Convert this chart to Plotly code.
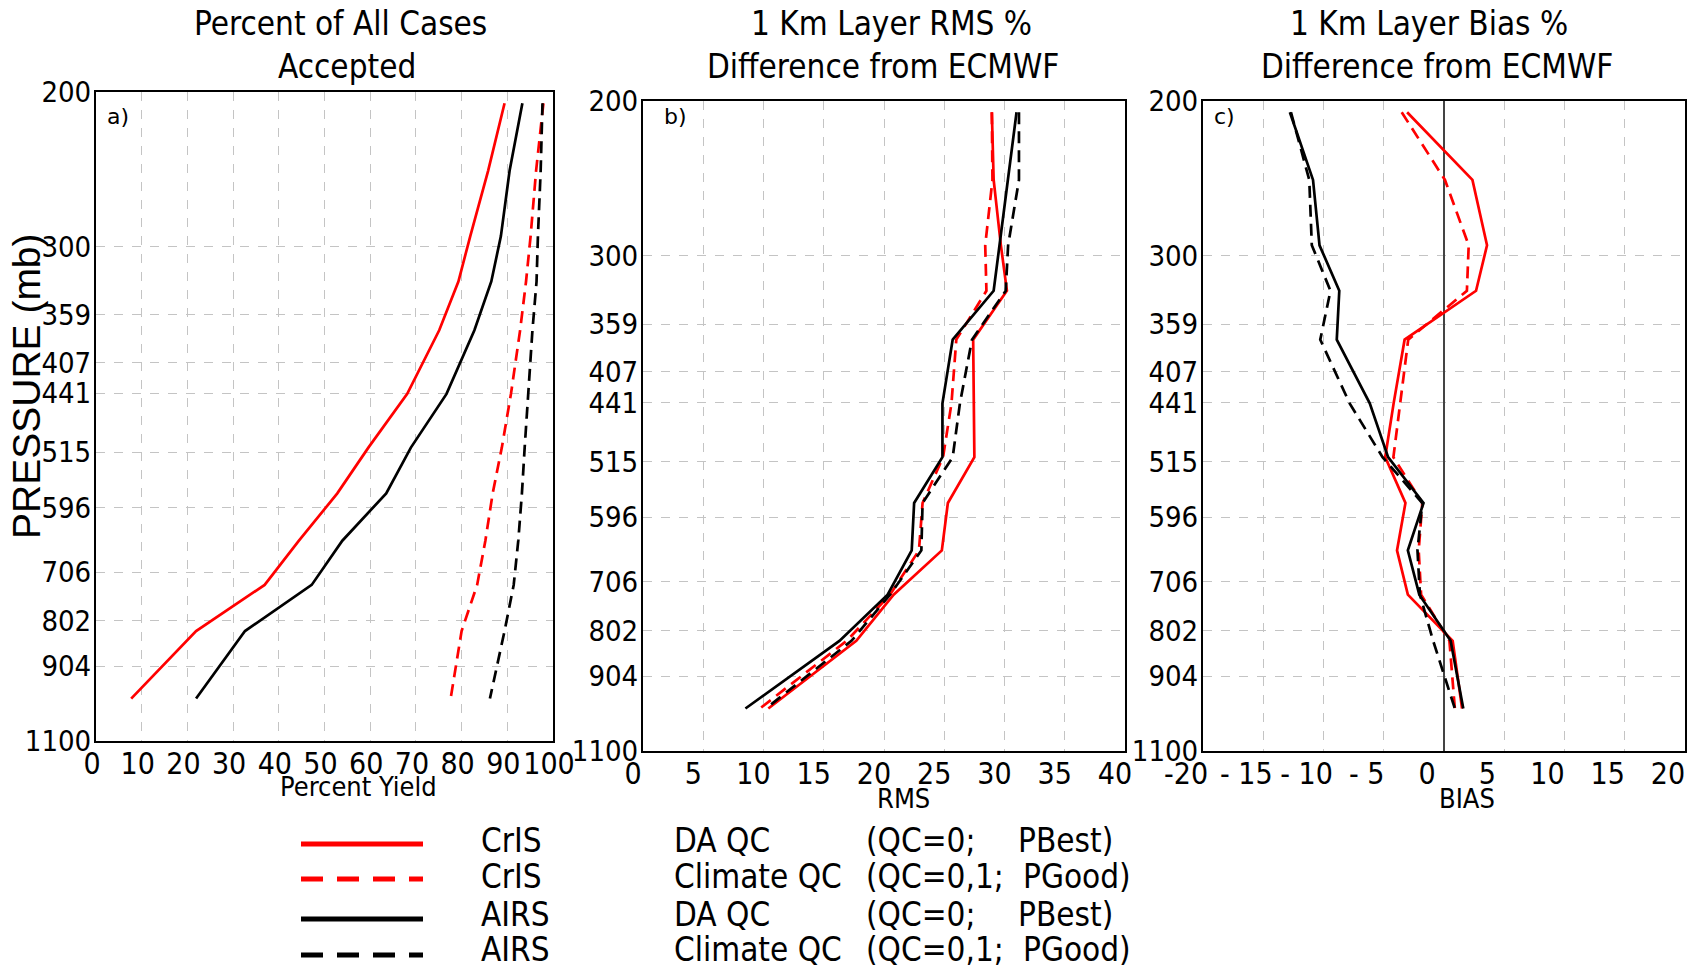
import plotly.graph_objects as go
import numpy as np

W, H = 1704, 968      # browser page size (reference coordinates)
OFF = 8               # default body margin of the page
FW, FH = W - OFF, H - OFF

# ---------------- data ----------------
PRESSURE = [206, 246, 292, 329, 374, 442, 509, 574, 650, 730, 824, 984]

YIELD_CRIS_DA = [89.4, 85.8, 81.9, 79.3, 75.1, 68.1, 59.6, 52.8, 44.4, 36.9, 21.9, 7.7]
YIELD_CRIS_CLIM = [97.9, 96.3, 95.1, 94.1, 92.8, 90.8, 88.8, 86.8, 85.2, 83.4, 80.0, 77.6]
YIELD_AIRS_DA = [93.3, 90.5, 88.6, 86.5, 82.8, 76.7, 68.9, 63.5, 53.9, 47.2, 32.6, 21.9]
YIELD_AIRS_CLIM = [97.7, 97.3, 96.7, 96.4, 95.5, 94.5, 93.8, 93.2, 92.4, 91.4, 89.4, 86.2]

RMS_CRIS_DA = [28.95, 29.1, 29.7, 30.2, 27.4, 27.45, 27.5, 25.3, 24.8, 20.8, 17.7, 10.4]
RMS_CRIS_CLIM = [28.95, 29.0, 28.4, 28.5, 26.0, 25.6, 24.9, 23.2, 22.9, 20.5, 16.9, 9.7]
RMS_AIRS_DA = [31.0, 30.3, 29.6, 29.1, 25.7, 24.85, 24.85, 22.5, 22.3, 20.3, 16.3, 8.5]
RMS_AIRS_CLIM = [31.2, 31.2, 30.3, 30.1, 27.3, 26.3, 25.7, 23.2, 23.1, 20.5, 17.3, 10.2]

BIAS_CRIS_DA = [-3.06, 2.36, 3.57, 2.66, -3.27, -4.18, -4.88, -3.2, -3.9, -3.0, 0.72, 1.5]
BIAS_CRIS_CLIM = [-3.51, 0.08, 2.05, 1.9, -2.97, -3.66, -4.2, -1.8, -2.1, -1.9, 0.45, 0.9]
BIAS_AIRS_DA = [-12.79, -10.87, -10.33, -8.69, -8.90, -6.16, -4.64, -1.7, -3.0, -2.05, 0.55, 1.6]
BIAS_AIRS_CLIM = [-12.7, -11.18, -10.97, -9.42, -10.27, -7.83, -5.1, -1.8, -2.2, -2.0, -0.9, 0.9]

P_TICKS = [200, 300, 359, 407, 441, 515, 596, 706, 802, 904, 1100]
P_TICKTEXT = [str(v) for v in P_TICKS]
YIELD_TICKS = list(range(0, 101, 10))
RMS_TICKS = list(range(0, 41, 5))
BIAS_TICKS = list(range(-20, 21, 5))
BIAS_TICKTEXT = ["-20", "- 15", "- 10", "- 5", "0", "5", "10", "15", "20"]

TITLES = [
    ("Percent of All Cases", "Accepted"),
    ("1 Km Layer RMS %", "Difference from ECMWF"),
    ("1 Km Layer Bias %", "Difference from ECMWF"),
]
X_TITLES = ["Percent Yield", "RMS", "BIAS"]
PANEL_LABELS = ["a)", "b)", "c)"]
Y_TITLE = "PRESSURE (mb)"

SERIES = [
    ("CrIS", "DA QC", "(QC=0;", "PBest)", "#ff0000", "solid"),
    ("CrIS", "Climate QC", "(QC=0,1;", "PGood)", "#ff0000", "dash"),
    ("AIRS", "DA QC", "(QC=0;", "PBest)", "#000000", "solid"),
    ("AIRS", "Climate QC", "(QC=0,1;", "PGood)", "#000000", "dash"),
]

# ---------------- layout helpers (page pixels -> paper fractions) ----------------
def px(x):
    return (x - OFF) / FW

def py(y):
    return 1 - (y - OFF) / FH

COND = "DejaVu Sans Condensed, Liberation Sans Narrow, Liberation Sans, sans-serif"
ARIAL = "Liberation Sans, Arial, sans-serif"
DEJAVU = "DejaVu Sans, sans-serif"

# panel boxes in page pixels (left, right, top, bottom)
BOXES = [(96, 553, 92, 741), (643, 1125, 101, 751), (1203, 1685, 101, 751)]
XRANGES = [[0, 100], [0, 40], [-20, 20]]
XTICKS = [YIELD_TICKS, RMS_TICKS, BIAS_TICKS]
XTICKTEXT = [[str(v) for v in YIELD_TICKS], [str(v) for v in RMS_TICKS], BIAS_TICKTEXT]
XSHIFT = [-4, -10, -17]

panel_data = [
    [YIELD_CRIS_DA, YIELD_CRIS_CLIM, YIELD_AIRS_DA, YIELD_AIRS_CLIM],
    [RMS_CRIS_DA, RMS_CRIS_CLIM, RMS_AIRS_DA, RMS_AIRS_CLIM],
    [BIAS_CRIS_DA, BIAS_CRIS_CLIM, BIAS_AIRS_DA, BIAS_AIRS_CLIM],
]

fig = go.Figure()

for i, series_list in enumerate(panel_data):
    xa = "x" if i == 0 else f"x{i+1}"
    ya = "y" if i == 0 else f"y{i+1}"
    for vals, s in zip(series_list, SERIES):
        fig.add_trace(go.Scatter(
            x=vals, y=PRESSURE, mode="lines",
            line=dict(color=s[4], width=2.7,
                      dash=("12px,7px" if s[5] == "dash" else "solid")),
            xaxis=xa, yaxis=ya, showlegend=False, hoverinfo="skip",
        ))

layout = dict(
    width=FW, height=FH, autosize=False,
    margin=dict(l=0, r=0, t=0, b=0, pad=0),
    paper_bgcolor="white", plot_bgcolor="white",
    showlegend=False,
)

for i, (l, r, t, b) in enumerate(BOXES):
    sfx = "" if i == 0 else str(i + 1)
    layout["xaxis" + sfx] = dict(
        domain=[px(l), px(r)], anchor="y" + sfx, range=XRANGES[i],
        tickmode="array", tickvals=XTICKS[i], ticktext=XTICKTEXT[i],
        showgrid=True, gridcolor="#c4c4c4", griddash="dash", gridwidth=1,
        zeroline=(i == 2), zerolinecolor="#444444", zerolinewidth=2,
        showline=True, linecolor="black", linewidth=2, mirror=True,
        ticks="", tickangle=0, ticklabelshift=XSHIFT[i], ticklabelstandoff=-5,
        automargin=False,
        tickfont=dict(family=COND, size=30, color="black"),
    )
    layout["yaxis" + sfx] = dict(
        domain=[py(b), py(t)], anchor="x" + sfx, type="log",
        range=[np.log10(1100), np.log10(200)],
        tickmode="array", tickvals=P_TICKS, ticktext=P_TICKTEXT,
        showgrid=True, gridcolor="#c4c4c4", griddash="dash", gridwidth=1,
        zeroline=False,
        showline=True, linecolor="black", linewidth=2, mirror=True,
        ticks="", automargin=False, ticklabelstandoff=-3,
        tickfont=dict(family=COND, size=29, color="black"),
    )

annotations = []
title_pos = [((340, 23), (347, 67)), ((891, 23), (883, 67)), ((1429, 23), (1437, 67))]
for (t1, t2), ((x1, y1), (x2, y2)) in zip(TITLES, title_pos):
    annotations.append(dict(text=t1, x=px(x1), y=py(y1), xref="paper", yref="paper",
                            xanchor="center", yanchor="middle", showarrow=False,
                            font=dict(family=COND, size=33, color="black")))
    annotations.append(dict(text=t2, x=px(x2), y=py(y2), xref="paper", yref="paper",
                            xanchor="center", yanchor="middle", showarrow=False,
                            font=dict(family=COND, size=33, color="black")))

xt_pos = [(358, 786), (903, 798), (1467, 798)]
for txt, (x, y) in zip(X_TITLES, xt_pos):
    annotations.append(dict(text=txt, x=px(x), y=py(y), xref="paper", yref="paper",
                            xanchor="center", yanchor="middle", showarrow=False,
                            font=dict(family=COND, size=27, color="black")))

lab_pos = [(105, 117), (662, 116), (1212, 116)]
for txt, (x, y) in zip(PANEL_LABELS, lab_pos):
    annotations.append(dict(text=txt, x=px(x), y=py(y), xref="paper", yref="paper",
                            xanchor="left", yanchor="middle", showarrow=False,
                            font=dict(family=DEJAVU, size=22, color="black")))

annotations.append(dict(text=Y_TITLE, x=px(26), y=py(386), xref="paper", yref="paper",
                        xanchor="center", yanchor="middle", showarrow=False, textangle=-90,
                        font=dict(family=ARIAL, size=39, color="black")))

# legend (manual, below the panels)
line_y = [844, 879, 919, 955]
text_y = [840, 876, 914, 949]
shapes = []
for s, ly, ty in zip(SERIES, line_y, text_y):
    shapes.append(dict(type="line", xref="paper", yref="paper",
                       x0=px(301), x1=px(423), y0=py(ly), y1=py(ly),
                       line=dict(color=s[4], width=5,
                                 dash=("22px,14px" if s[5] == "dash" else "solid"))))
    for txt, x in zip(s[:4], [479, 672, 864, 1016 if s[3] == "PBest)" else 1021]):
        annotations.append(dict(text=txt, x=px(x), y=py(ty), xref="paper", yref="paper",
                                xanchor="left", yanchor="middle", showarrow=False,
                                font=dict(family=COND, size=33, color="black")))

layout["annotations"] = annotations
layout["shapes"] = shapes
fig.update_layout(**layout)
fig.write_html("out.html")
